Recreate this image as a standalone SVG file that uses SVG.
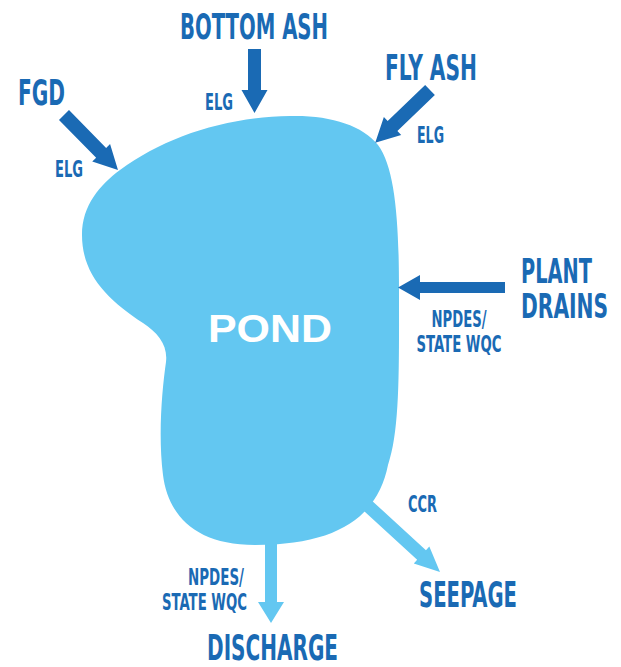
<svg xmlns="http://www.w3.org/2000/svg" width="621" height="667" viewBox="0 0 621 667">
<style>
.bg{fill:#ffffff}
.pond{fill:#63c7f1}
.dark{fill:#1a6ab4}
.light{fill:#63c7f1}
.t{font-family:"Liberation Sans Narrow","DejaVu Sans Condensed","Liberation Sans",sans-serif;font-stretch:condensed;font-weight:bold;fill:#1a6ab4}
.big{font-size:36px}
.mid{font-size:34px}
.small{font-size:23px}
.pondtxt{font-family:"Liberation Sans","DejaVu Sans",sans-serif;font-weight:bold;font-size:39px;fill:#ffffff}
</style>
<rect class="bg" x="0" y="0" width="621" height="667"/>
<g id="pond">
<path class="pond" d="M 82,235 C 82,205 100,185 120,170 C 165,137 225,117 290,116 C 330,115 362,125 378,145 C 395,168 399,220 399,290 C 399,370 400,430 388,465 C 378,515 340,545 255,545 C 195,545 168,515 163,475 C 158,435 162,390 166,362 C 168,345 158,333 143,323 C 108,300 82,275 82,235 Z"/>
<text class="pondtxt" x="208" y="342" textLength="124" lengthAdjust="spacingAndGlyphs">POND</text>
</g>
<g id="connectors">
<!-- FGD -> pond -->
<path class="dark" transform="translate(64,115) rotate(45.5)" d="M0,-7 L53,-7 L53,-12.5 L77,0 L53,12.5 L53,7 L0,7 Z"/>
<text class="t small" x="55" y="177" textLength="28" lengthAdjust="spacingAndGlyphs">ELG</text>
<!-- Bottom ash -> pond -->
<path class="dark" transform="translate(254.5,49) rotate(90)" d="M0,-6.5 L41,-6.5 L41,-13 L64,0 L41,13 L41,6.5 L0,6.5 Z"/>
<text class="t small" x="205" y="110" textLength="28" lengthAdjust="spacingAndGlyphs">ELG</text>
<!-- Fly ash -> pond -->
<path class="dark" transform="translate(430,90) rotate(136.1)" d="M0,-7 L52,-7 L52,-12.5 L76,0 L52,12.5 L52,7 L0,7 Z"/>
<text class="t small" x="417" y="143" textLength="27" lengthAdjust="spacingAndGlyphs">ELG</text>
<!-- Plant drains -> pond -->
<path class="dark" transform="translate(505,287.5) rotate(180)" d="M0,-5.5 L85,-5.5 L85,-12.5 L107,0 L85,12.5 L85,5.5 L0,5.5 Z"/>
<text class="t small" x="459" y="327" text-anchor="middle" textLength="55" lengthAdjust="spacingAndGlyphs">NPDES/</text>
<text class="t small" x="459" y="352" text-anchor="middle" textLength="85" lengthAdjust="spacingAndGlyphs">STATE WQC</text>
<!-- pond -> discharge -->
<path class="light" transform="translate(271,530) rotate(90)" d="M0,-6 L72,-6 L72,-13 L93,0 L72,13 L72,6 L0,6 Z"/>
<text class="t small" x="244" y="585" text-anchor="end" textLength="56" lengthAdjust="spacingAndGlyphs">NPDES/</text>
<text class="t small" x="247" y="610" text-anchor="end" textLength="85" lengthAdjust="spacingAndGlyphs">STATE WQC</text>
<!-- pond -> seepage -->
<path class="light" transform="translate(367,505) rotate(42.5)" d="M0,-6.5 L74,-6.5 L74,-11.5 L99,0 L74,11.5 L74,6.5 L0,6.5 Z"/>
<text class="t small" x="408" y="512" textLength="29" lengthAdjust="spacingAndGlyphs">CCR</text>
</g>
<g id="fgd">
<text class="t big" x="18" y="105" textLength="47" lengthAdjust="spacingAndGlyphs">FGD</text>
</g>
<g id="bottom-ash">
<text class="t big" x="180" y="39" textLength="148" lengthAdjust="spacingAndGlyphs">BOTTOM ASH</text>
</g>
<g id="fly-ash">
<text class="t big" x="385" y="80" textLength="92" lengthAdjust="spacingAndGlyphs">FLY ASH</text>
</g>
<g id="plant-drains" transform="translate(521,0) scale(0.65,1)">
<text class="t mid" x="0" y="283" textLength="109" lengthAdjust="spacingAndGlyphs">PLANT</text>
<text class="t mid" x="0" y="318" textLength="134" lengthAdjust="spacingAndGlyphs">DRAINS</text>
</g>
<g id="discharge">
<text class="t big" x="207" y="660" textLength="131" lengthAdjust="spacingAndGlyphs">DISCHARGE</text>
</g>
<g id="seepage">
<text class="t big" x="419" y="607" textLength="98" lengthAdjust="spacingAndGlyphs">SEEPAGE</text>
</g>
</svg>
